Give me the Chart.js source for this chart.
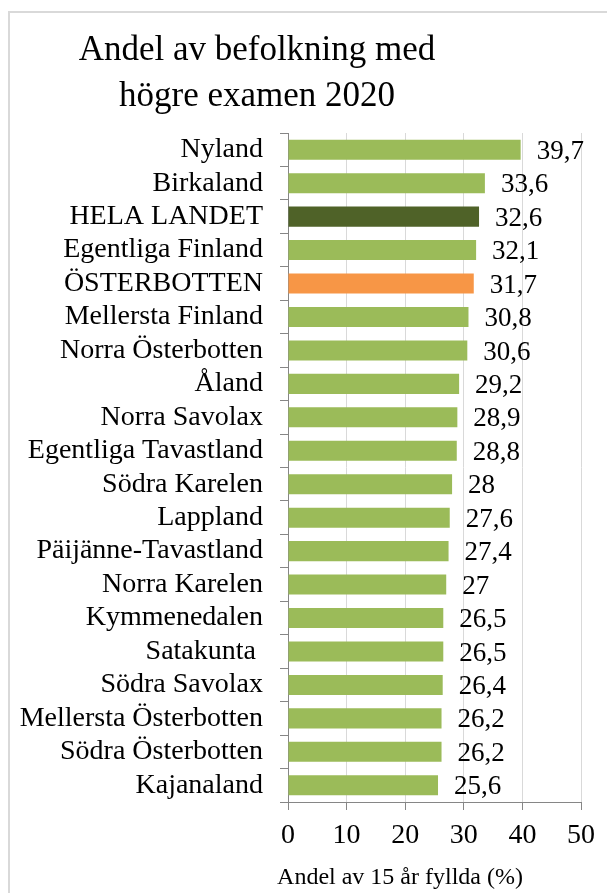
<!DOCTYPE html>
<html lang="sv">
<head>
  <meta charset="UTF-8" />
  <title>Andel av befolkning med högre examen 2020</title>
  <style>
    body {
      margin: 0;
      background: white;
      width: 607px;
      height: 893px;
      overflow: hidden;
      position: relative;
      font-family: "Liberation Serif", serif;
      color: black;
    }
    #frame {
      position: absolute;
      left: 8px;
      top: 11px;
      width: 700px;
      height: 1000px;
      border-left: 2px solid #d9d9d9;
      border-top: 2px solid #d9d9d9;
    }
    #title {
      position: absolute;
      left: 0;
      top: 26px;
      width: 514px;
      text-align: center;
      font-size: 35px;
      line-height: 46px;
    }
    #xtitle {
      position: absolute;
      left: 200px;
      top: 864px;
      width: 400px;
      text-align: center;
      font-size: 24px;
      line-height: 24px;
    }
    canvas { position: absolute; left: 0; top: 0; }
  </style>
</head>
<body>
  <div id="frame"></div>
  <canvas id="chart" width="607" height="893"></canvas>
  <div id="title">Andel av befolkning med<br />högre examen 2020</div>
  <div id="xtitle">Andel av 15 år fyllda (%)</div>

  <script src="https://cdn.jsdelivr.net/npm/chart.js"></script>
  <script>
    const regions = [
      "Nyland", "Birkaland", "HELA LANDET", "Egentliga Finland", "ÖSTERBOTTEN",
      "Mellersta Finland", "Norra Österbotten", "Åland", "Norra Savolax",
      "Egentliga Tavastland", "Södra Karelen", "Lappland", "Päijänne-Tavastland",
      "Norra Karelen", "Kymmenedalen", "Satakunta ", "Södra Savolax",
      "Mellersta Österbotten", "Södra Österbotten", "Kajanaland"
    ];
    const shares = [
      39.7, 33.6, 32.6, 32.1, 31.7, 30.8, 30.6, 29.2, 28.9, 28.8,
      28, 27.6, 27.4, 27, 26.5, 26.5, 26.4, 26.2, 26.2, 25.6
    ];
    const xTicks = [0, 10, 20, 30, 40, 50];

    const barColors = regions.map(r =>
      r === "HELA LANDET" ? "#4f6228" : r === "ÖSTERBOTTEN" ? "#f79646" : "#9bbb59");

    // värdena till höger om staplarna, med decimalkomma
    const valueLabels = {
      id: "valueLabels",
      afterDatasetsDraw(chart) {
        const ctx = chart.ctx;
        const meta = chart.getDatasetMeta(0);
        ctx.save();
        ctx.font = '27px "Liberation Serif"';
        ctx.fillStyle = "#000";
        ctx.textBaseline = "middle";
        ctx.textAlign = "left";
        meta.data.forEach((bar, i) => {
          ctx.fillText(String(shares[i]).replace(".", ","), bar.x + 16, bar.y + 2);
        });
        ctx.restore();
      }
    };

    Chart.defaults.font.family = '"Liberation Serif", serif';
    Chart.defaults.color = "#000";

    new Chart(document.getElementById("chart"), {
      type: "bar",
      data: {
        labels: regions,
        datasets: [{
          data: shares,
          backgroundColor: barColors,
          borderWidth: 0,
          categoryPercentage: 1,
          barPercentage: 0.6
        }]
      },
      options: {
        indexAxis: "y",
        responsive: false,
        animation: false,
        layout: { padding: { top: 133, right: 26, left: 0, bottom: 0 } },
        plugins: {
          legend: { display: false },
          tooltip: { enabled: false }
        },
        scales: {
          x: {
            min: 0,
            max: 50,
            afterBuildTicks: s => { s.ticks = xTicks.map(v => ({ value: v })); },
            afterFit: s => { s.height = 91; },
            grid: { color: "#d9d9d9", tickColor: "#868686", tickLength: 8 },
            border: { color: "#868686" },
            ticks: { font: { size: 28 }, padding: 9 }
          },
          y: {
            afterFit: s => { s.width = 288; },
            grid: { drawOnChartArea: false, tickColor: "#868686", tickLength: 8, offset: true },
            border: { color: "#868686" },
            ticks: { font: { size: 28 }, padding: 17, autoSkip: false }
          }
        }
      },
      plugins: [valueLabels]
    });
  </script>
</body>
</html>
